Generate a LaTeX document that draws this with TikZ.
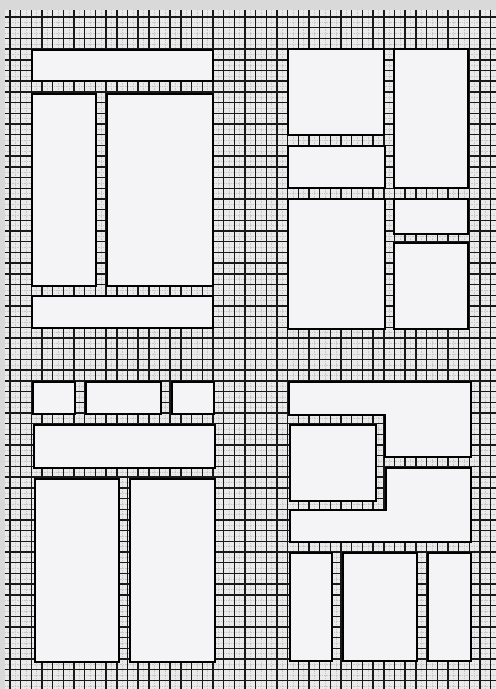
\documentclass[tikz,border=0pt]{standalone}
\usetikzlibrary{calc}
\usepackage{xcolor}
\definecolor{paper}{HTML}{EAEAEA}
\definecolor{edge}{HTML}{D9D9D9}
\definecolor{sheet}{HTML}{F4F4F7}

\begin{document}
\begin{tikzpicture}[x=0.05cm, y=-0.05cm,
    panel/.style={draw=black, fill=sheet, line width=3pt, line join=miter},
    major/.style={draw=black!90, line width=2pt},
    minor/.style={draw=black!22, line width=0.6pt, dash pattern=on 1.2pt off 1.2pt}]

  %% Paper and grid
  \fill[edge] (0,0) rectangle (496,689);
  \useasboundingbox (0,0) rectangle (496,689);
  \fill[paper] (5,10) rectangle (496,689);
  \foreach \i in {0,...,45}
    \draw[minor] ({15.34+10.68*\i},10) -- ++(0,679);
  \foreach \j in {0,...,62}
    \draw[minor] (5,{22.35+10.7*\j}) -- ++(491,0);
  \foreach \i in {0,...,45}
    \draw[major] ({10+10.68*\i},10) -- ++(0,679);
  \foreach \j in {0,...,62}
    \draw[major] (5,{17+10.7*\j}) -- ++(491,0);

  %% Layout A (top left)
  \draw[panel] (32,50)  rectangle (213,81);
  \draw[panel] (32,94)  rectangle (96,286);
  \draw[panel] (107,94) rectangle (213,286);
  \draw[panel] (32,296) rectangle (213,328);

  %% Layout B (top right)
  \draw[panel] (288,49)  rectangle (384,135);
  \draw[panel] (288,146) rectangle (385,188);
  \draw[panel] (394,49)  rectangle (468,188);
  \draw[panel] (288,199) rectangle (385,329);
  \draw[panel] (394,199) rectangle (468,234);
  \draw[panel] (394,243) rectangle (468,329);

  %% Layout C (bottom left)
  \draw[panel] (33,382)  rectangle (75,414);
  \draw[panel] (86,382)  rectangle (161,414);
  \draw[panel] (172,382) rectangle (214,414);
  \draw[panel] (34,425)  rectangle (215,468);
  \draw[panel] (35,479)  rectangle (119,662);
  \draw[panel] (130,479) rectangle (215,662);

  %% Layout D (bottom right)
  \draw[panel] (289,382) -- (471,382) -- (471,457) -- (385,457)
               -- (385,415) -- (289,415) -- cycle;
  \draw[panel] (290,425) rectangle (376,501);
  \draw[panel] (386,468) -- (471,468) -- (471,542) -- (290,542)
               -- (290,510) -- (386,510) -- cycle;
  \draw[panel] (290,553) rectangle (332,661);
  \draw[panel] (343,553) rectangle (417,661);
  \draw[panel] (428,553) rectangle (471,661);
\end{tikzpicture}
\end{document}
